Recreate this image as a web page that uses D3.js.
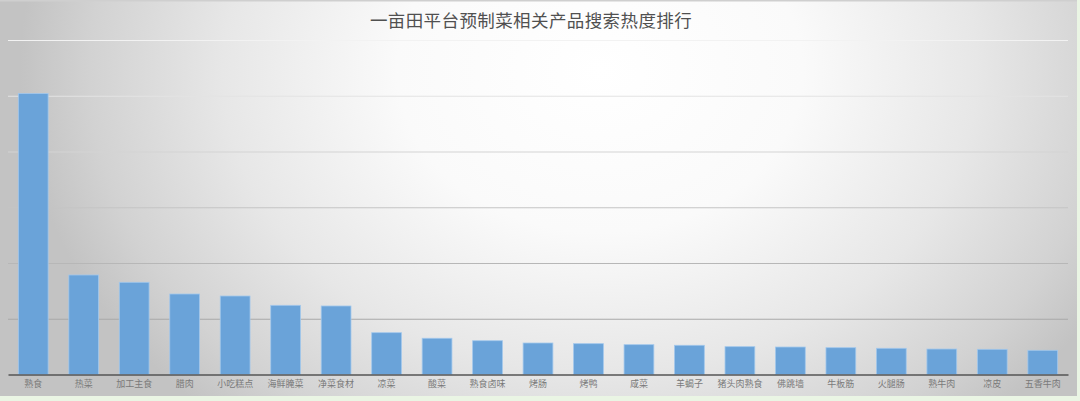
<!DOCTYPE html>
<html><head><meta charset="utf-8">
<script src="https://cdn.jsdelivr.net/npm/d3@7"></script>
<style>html,body{margin:0;padding:0;background:#fff;overflow:hidden}svg{display:block}</style>
</head><body>
<svg id="c" width="1080" height="401"></svg>
<script>
const title = "一亩田平台预制菜相关产品搜索热度排行";
const categories = ["熟食","热菜","加工主食","腊肉","小吃糕点","海鲜腌菜","净菜食材","凉菜","酸菜","熟食卤味","烤肠","烤鸭","咸菜","羊蝎子","猪头肉熟食","佛跳墙","牛板筋","火腿肠","熟牛肉","凉皮","五香牛肉"];
const values = [504,178.5,165.4,144.4,140.8,124.1,122.9,75,65,60.6,56.5,55.3,53.5,52.4,49.9,49.3,48.1,47,45.7,45.2,43.4];
const yTicks = [0,100,200,300,400,500,600];

(function(){
const W = 1080, H = 401;
const svg = d3.select("#c");
const defs = svg.append("defs");
const g = defs.append("radialGradient").attr("id","bg")
  .attr("gradientUnits","userSpaceOnUse")
  .attr("cx",600).attr("cy",70).attr("r",580)
  .attr("gradientTransform","translate(600,70) scale(1,0.8) translate(-600,-70)");
[[0,"#ffffff"],[0.35,"#fafafa"],[0.65,"#e7e7e7"],[0.88,"#d2d2d2"],[1,"#c3c3c3"]].forEach(([o,c])=>g.append("stop").attr("offset",o).attr("stop-color",c));

svg.append("rect").attr("width",W).attr("height",H).attr("fill","#eaf5e4");
svg.append("rect").attr("x",0).attr("y",0).attr("width",1077).attr("height",396).attr("fill","url(#bg)");
svg.append("rect").attr("x",0).attr("y",0).attr("width",1077).attr("height",1.5).attr("fill","#cfcfcf");

const pL = 8, pR = 1068, pT = 40, pB = 374.5;
const x = d3.scaleBand().domain(categories).range([pL,pR]).paddingInner(0.41).paddingOuter(0.205);
const y = d3.scaleLinear().domain([0,600]).range([pB,pT]);

const gridColor = d3.scaleLinear().domain([600,300,0]).range(["#f2f2f2","#c4c4c4","#9c9c9c"]);
const grid = svg.append("g").attr("transform",`translate(${pL},0)`)
  .call(d3.axisLeft(y).tickValues(yTicks.filter(v=>v>0)).tickSize(-(pR-pL)).tickFormat(""));
grid.select(".domain").remove();
grid.selectAll(".tick line").attr("stroke",d=>gridColor(d)).attr("stroke-width",1.2);

svg.append("g").selectAll("rect").data(values).join("rect")
  .attr("x",(d,i)=>x(categories[i]))
  .attr("y",d=>y(d))
  .attr("width",x.bandwidth())
  .attr("height",d=>pB-y(d))
  .attr("fill","#6aa3d9")
  .attr("stroke","#a3c8ec").attr("stroke-width",0.8);

const xa = svg.append("g").attr("transform",`translate(0,${pB})`)
  .call(d3.axisBottom(x).tickSize(0).tickPadding(6));
xa.select(".domain").attr("stroke","#555555").attr("stroke-width",1.6);
xa.selectAll("text").attr("fill","#7a7a7a").attr("font-size","9px")
  .attr("font-family","'Noto Sans CJK SC','Noto Sans',sans-serif");

svg.append("text").attr("x",531).attr("y",19).attr("text-anchor","middle")
  .attr("dominant-baseline","central")
  .attr("font-family","'Noto Sans CJK SC','Noto Sans',sans-serif")
  .attr("font-size","17.5px").attr("fill","#505050").attr("letter-spacing","0.4px")
  .text(title);
})();
</script>
</body></html>
